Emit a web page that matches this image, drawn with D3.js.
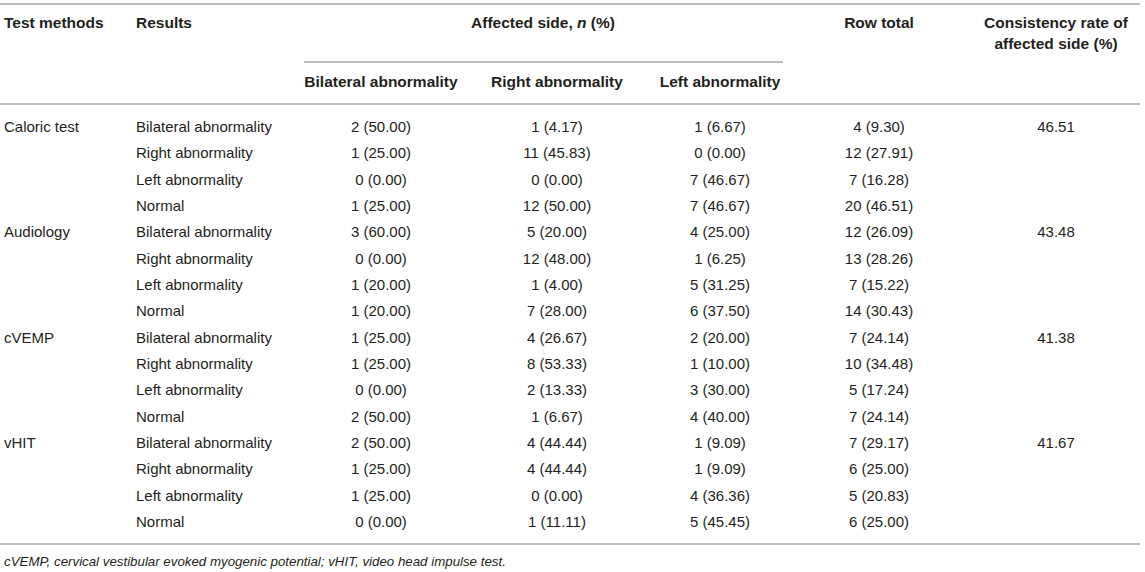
<!DOCTYPE html>
<html><head><meta charset="utf-8">
<script src="https://cdn.jsdelivr.net/npm/d3@7"></script>
<style>
html,body{margin:0;padding:0;background:#fff;}
svg{display:block;font-family:"Liberation Sans",Arial,Helvetica,sans-serif;}
</style></head>
<body>
<svg id="chart" width="1145" height="572"></svg>
<script>
const methods = ["Caloric test","Audiology","cVEMP","vHIT"];
const results = ["Bilateral abnormality","Right abnormality","Left abnormality","Normal"];
const bilateralN   = [2,1,0,1, 3,0,1,1, 1,1,0,2, 2,1,1,0];
const bilateralPct = [50.00,25.00,0.00,25.00, 60.00,0.00,20.00,20.00, 25.00,25.00,0.00,50.00, 50.00,25.00,25.00,0.00];
const rightN   = [1,11,0,12, 5,12,1,7, 4,8,2,1, 4,4,0,1];
const rightPct = [4.17,45.83,0.00,50.00, 20.00,48.00,4.00,28.00, 26.67,53.33,13.33,6.67, 44.44,44.44,0.00,11.11];
const leftN   = [1,0,7,7, 4,1,5,6, 2,1,3,4, 1,1,4,5];
const leftPct = [6.67,0.00,46.67,46.67, 25.00,6.25,31.25,37.50, 20.00,10.00,30.00,40.00, 9.09,9.09,36.36,45.45];
const totalN   = [4,12,7,20, 12,13,7,14, 7,10,5,7, 7,6,5,6];
const totalPct = [9.30,27.91,16.28,46.51, 26.09,28.26,15.22,30.43, 24.14,34.48,17.24,24.14, 29.17,25.00,20.83,25.00];
const consistency = [46.51,43.48,41.38,41.67];
const subHeaders = ["Bilateral abnormality","Right abnormality","Left abnormality"];
const footnote = "cVEMP, cervical vestibular evoked myogenic potential; vHIT, video head impulse test.";

const svg = d3.select("#chart");
const textColor = "#231f20";
const lineColor = "#a7a7a7";
const fmt = d3.format(".2f");
const cell = (n,p) => `${n} (${fmt(p)})`;

// row scale
const rowIdx = d3.range(methods.length * results.length);
const y = d3.scalePoint().domain(rowIdx).range([127, 522]);
// column x positions
const colKeys = ["method","result","bil","right","left","total","cons"];
const x = d3.scaleOrdinal().domain(colKeys).range([4, 136, 381, 557, 720, 879, 1056]);

// rules
const rules = [
  {x1:0, x2:1140, y:4, w:1.6},
  {x1:304, x2:783, y:62, w:1.4},
  {x1:0, x2:1140, y:104, w:1.4},
  {x1:0, x2:1140, y:544, w:1.4}
];
svg.selectAll("line.rule").data(rules).join("line").attr("class","rule")
  .attr("x1",d=>d.x1).attr("x2",d=>d.x2).attr("y1",d=>d.y).attr("y2",d=>d.y)
  .attr("stroke",lineColor).attr("stroke-width",d=>d.w);

// headers
const hdr = svg.append("g").attr("font-size",15.5).attr("font-weight","bold").attr("fill",textColor);
hdr.append("text").attr("x",x("method")).attr("y",28).text("Test methods");
hdr.append("text").attr("x",x("result")).attr("y",28).text("Results");
const aff = hdr.append("text").attr("x",543).attr("y",28).attr("text-anchor","middle");
aff.append("tspan").text("Affected side, ");
aff.append("tspan").attr("font-style","italic").text("n");
aff.append("tspan").text(" (%)");
hdr.append("text").attr("x",x("total")).attr("y",28).attr("text-anchor","middle").text("Row total");
hdr.append("text").attr("x",x("cons")).attr("y",28).attr("text-anchor","middle").text("Consistency rate of");
hdr.append("text").attr("x",x("cons")).attr("y",49).attr("text-anchor","middle").text("affected side (%)");
hdr.selectAll("text.sub").data(subHeaders).join("text").attr("class","sub")
  .attr("x",(d,i)=>x(["bil","right","left"][i])).attr("y",87).attr("text-anchor","middle").text(d=>d);

// body
const body = svg.append("g").attr("font-size",15).attr("fill",textColor);
const rows = rowIdx.map(i => ({
  i,
  method: i % results.length === 0 ? methods[i / results.length] : "",
  result: results[i % results.length],
  bil: cell(bilateralN[i], bilateralPct[i]),
  right: cell(rightN[i], rightPct[i]),
  left: cell(leftN[i], leftPct[i]),
  total: cell(totalN[i], totalPct[i]),
  cons: i % results.length === 0 ? consistency[i / results.length].toFixed(2) : ""
}));
const rg = body.selectAll("g.row").data(rows).join("g").attr("class","row")
  .attr("transform", d => `translate(0,${y(d.i) + 5})`);
colKeys.forEach(k => {
  rg.append("text").attr("x", x(k))
    .attr("text-anchor", (k === "method" || k === "result") ? "start" : "middle")
    .text(d => d[k]);
});

svg.append("text").attr("x",4).attr("y",566).attr("font-size",13.3).attr("font-style","italic")
  .attr("fill",textColor).text(footnote);
</script>
</body></html>
